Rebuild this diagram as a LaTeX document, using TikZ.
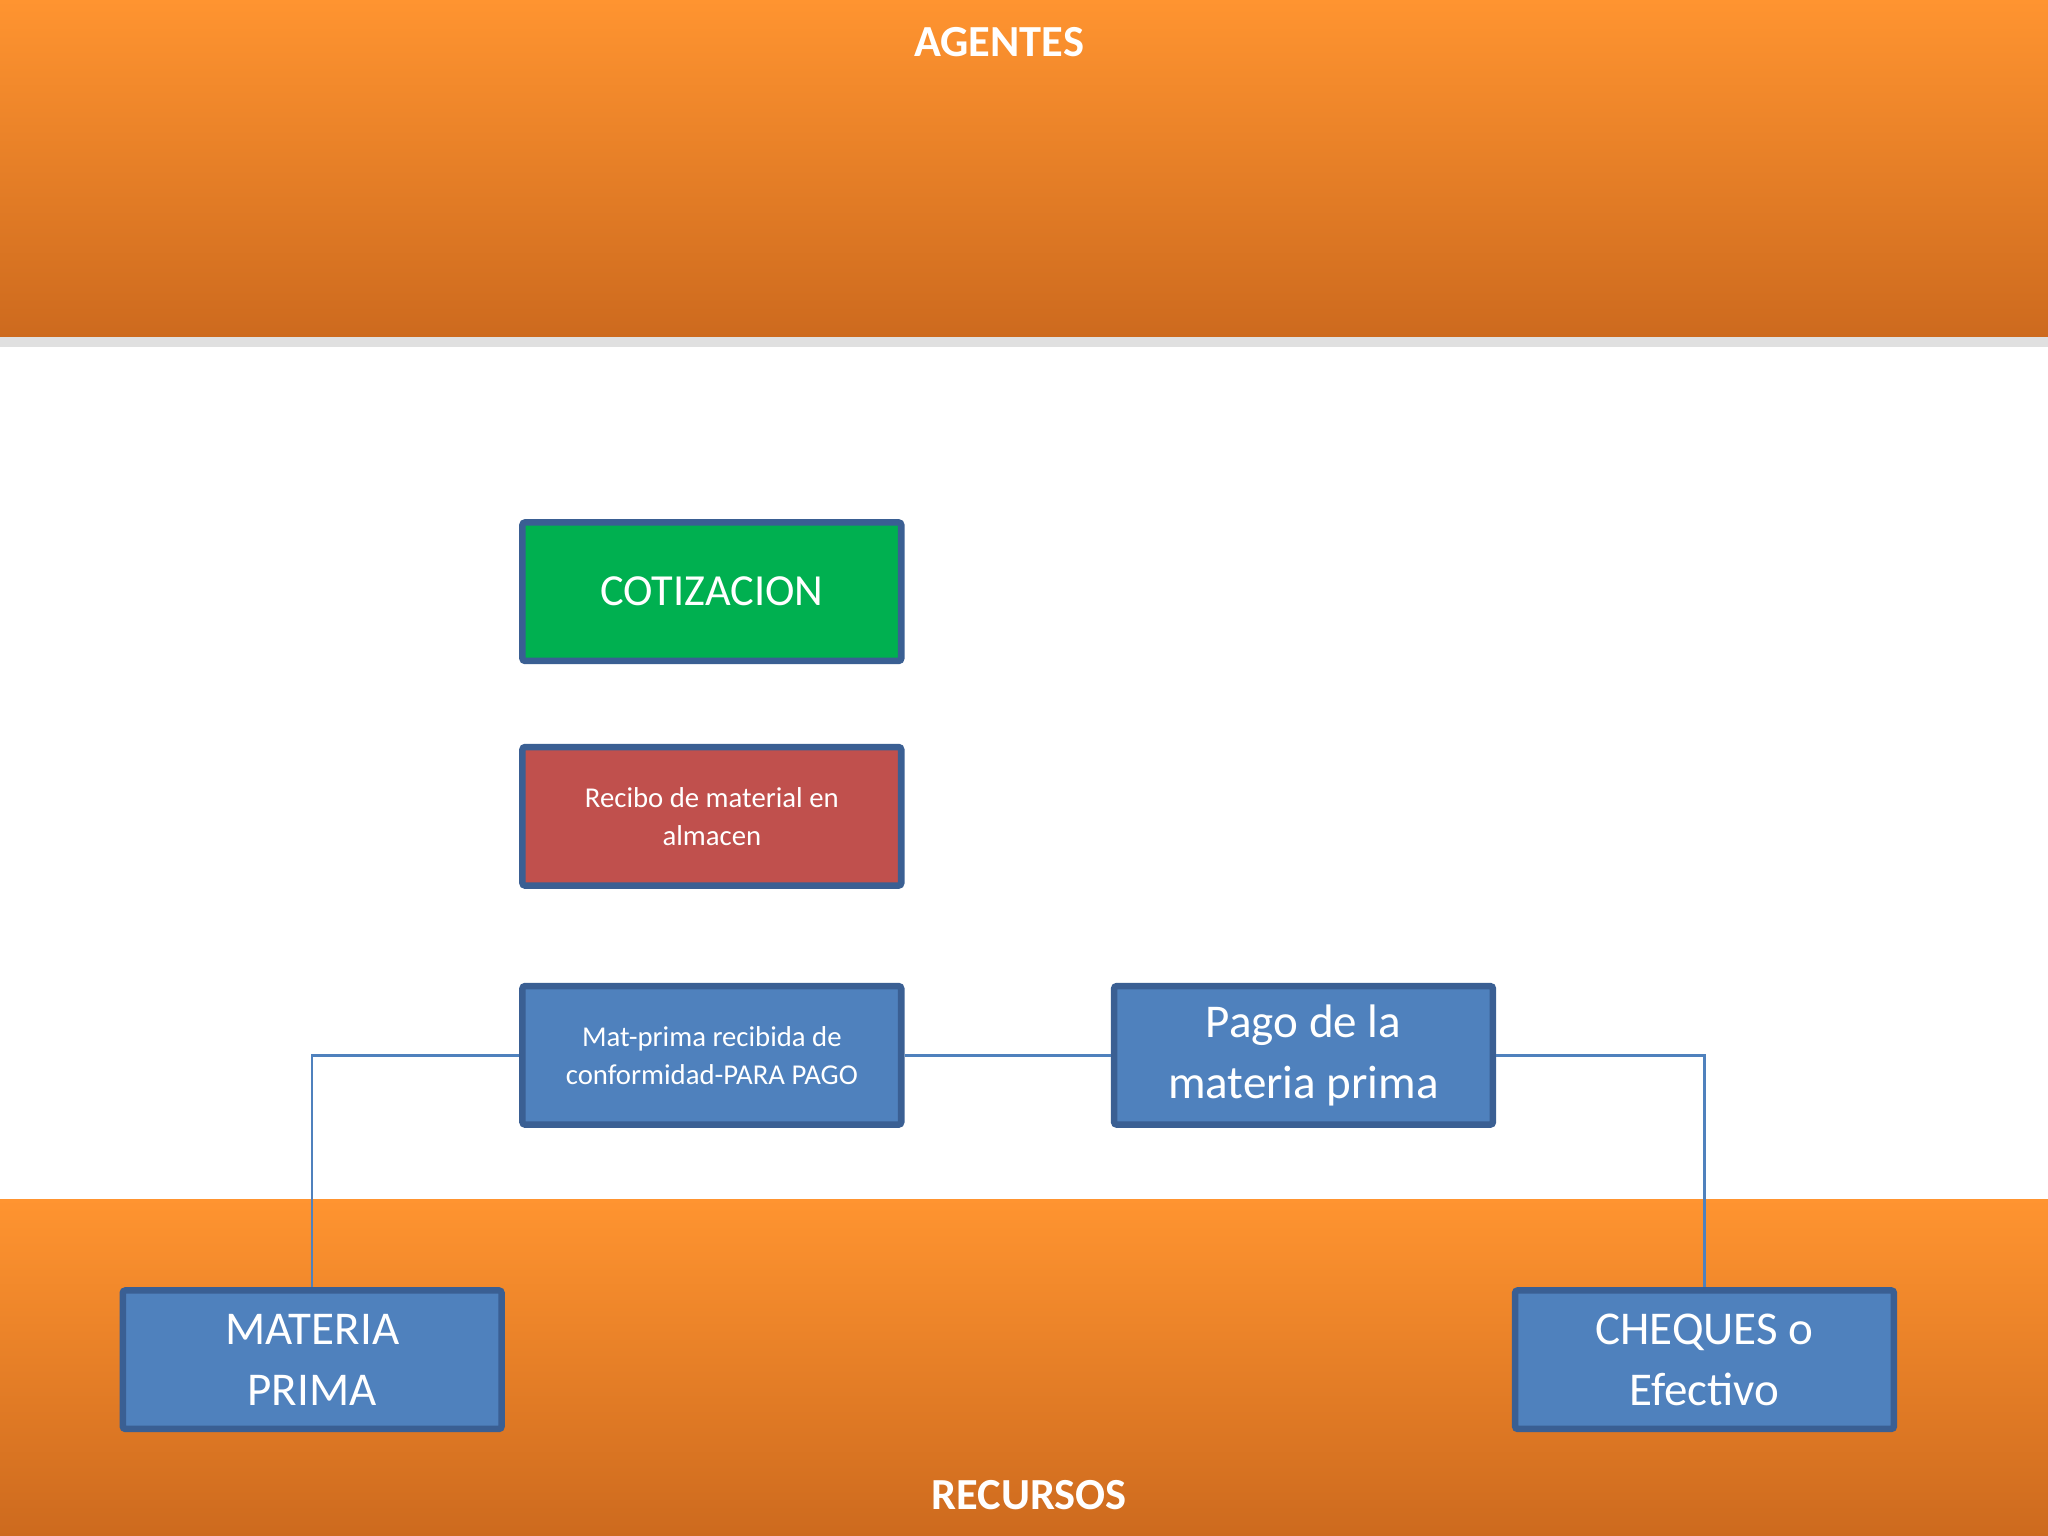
\documentclass[tikz,border=0pt]{standalone}
\usepackage{fontspec}
\setmainfont{Carlito}
\usetikzlibrary{shadings}
\definecolor{otop}{HTML}{FF9430}
\definecolor{obot}{HTML}{CD6A1E}
\definecolor{bord}{HTML}{3A5F93}
\definecolor{bl}{HTML}{4F81BD}
\definecolor{gr}{HTML}{00B050}
\definecolor{rd}{HTML}{C0504D}
\begin{document}
\begin{tikzpicture}[x=0.5pt,y=-0.5pt,
 box/.style={draw=bord,line width=2.5pt,rounded corners=1pt,minimum width=145pt,minimum height=53pt,text=white,align=center,inner sep=0pt,
   append after command={\pgfextra{\draw[white!70!bord,line width=0.6pt] ([shift={(3.5pt,-3.5pt)}]\tikzlastnode.north west) rectangle ([shift={(-3.5pt,3.5pt)}]\tikzlastnode.south east);}}},
 conn/.style={draw=bl,line width=1pt}]
\useasboundingbox (0,0) rectangle (1568,1176);
\fill[black!12] (0,258) rectangle (1568,266);
\shade[top color=otop,bottom color=obot] (0,0) rectangle (1568,258);
\shade[top color=otop,middle color=otop!95!obot,bottom color=obot] (0,918) rectangle (1568,1176);
\node[text=white,font=\bfseries\fontsize{17}{20}\selectfont] (ag) at (765,32) {AGENTES};
\node[text=white,font=\bfseries\fontsize{17}{20}\selectfont] (rec) at (788,1145) {RECURSOS};
\node[box,fill=gr,font=\fontsize{17}{20}\selectfont] (cot) at (545,453) {COTIZACION};
\node[box,fill=rd,font=\fontsize{11}{14.5}\selectfont] (reci) at (545,625) {Recibo de material en\\almacen};
\node[box,fill=bl,font=\fontsize{11}{14.5}\selectfont] (mat) at (545,808) {Mat-prima recibida de\\conformidad-PARA PAGO};
\node[box,fill=bl,font=\fontsize{18}{23.5}\selectfont] (pago) at (998,808) {Pago de la\\materia prima};
\node[box,fill=bl,font=\fontsize{18}{23.5}\selectfont] (mp) at (239,1041) {MATERIA\\PRIMA};
\node[box,fill=bl,font=\fontsize{18}{23.5}\selectfont] (ch) at (1305,1041) {CHEQUES o\\Efectivo};
\draw[conn] (mat.west) -| (mp.north);
\draw[conn] (mat.east) -- (pago.west);
\draw[conn] (pago.east) -| (ch.north);
\end{tikzpicture}
\end{document}
